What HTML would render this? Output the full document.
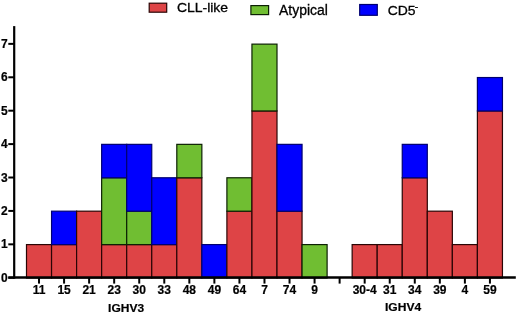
<!DOCTYPE html>
<html><head><meta charset="utf-8"><style>
html,body{margin:0;padding:0;background:#fff;}
body{width:520px;height:313px;overflow:hidden;}
svg{display:block;}
.t{font-family:"Liberation Sans",Arial,sans-serif;font-weight:bold;font-size:12.0px;fill:#000;stroke:#000;stroke-width:0.2px;}
.l{font-family:"Liberation Sans",Arial,sans-serif;font-size:13.3px;fill:#000;stroke:#000;stroke-width:0.3px;}
</style></head><body>
<svg width="520" height="313" viewBox="0 0 520 313">
<rect width="520" height="313" fill="#fff"/>
<rect x="26.50" y="244.59" width="25.05" height="33.41" fill="#DE4446" stroke="#2a0505" stroke-width="1.2"/>
<rect x="51.55" y="244.59" width="25.05" height="33.41" fill="#DE4446" stroke="#2a0505" stroke-width="1.2"/>
<rect x="51.55" y="211.18" width="25.05" height="33.41" fill="#0000FF" stroke="#000070" stroke-width="1.2"/>
<rect x="76.60" y="211.18" width="25.05" height="66.82" fill="#DE4446" stroke="#2a0505" stroke-width="1.2"/>
<rect x="101.65" y="244.59" width="25.05" height="33.41" fill="#DE4446" stroke="#2a0505" stroke-width="1.2"/>
<rect x="101.65" y="177.77" width="25.05" height="66.82" fill="#70BE32" stroke="#0c2004" stroke-width="1.2"/>
<rect x="101.65" y="144.36" width="25.05" height="33.41" fill="#0000FF" stroke="#000070" stroke-width="1.2"/>
<rect x="126.70" y="244.59" width="25.05" height="33.41" fill="#DE4446" stroke="#2a0505" stroke-width="1.2"/>
<rect x="126.70" y="211.18" width="25.05" height="33.41" fill="#70BE32" stroke="#0c2004" stroke-width="1.2"/>
<rect x="126.70" y="144.36" width="25.05" height="66.82" fill="#0000FF" stroke="#000070" stroke-width="1.2"/>
<rect x="151.75" y="244.59" width="25.05" height="33.41" fill="#DE4446" stroke="#2a0505" stroke-width="1.2"/>
<rect x="151.75" y="177.77" width="25.05" height="66.82" fill="#0000FF" stroke="#000070" stroke-width="1.2"/>
<rect x="176.80" y="177.77" width="25.05" height="100.23" fill="#DE4446" stroke="#2a0505" stroke-width="1.2"/>
<rect x="176.80" y="144.36" width="25.05" height="33.41" fill="#70BE32" stroke="#0c2004" stroke-width="1.2"/>
<rect x="201.85" y="244.59" width="25.05" height="33.41" fill="#0000FF" stroke="#000070" stroke-width="1.2"/>
<rect x="226.90" y="211.18" width="25.05" height="66.82" fill="#DE4446" stroke="#2a0505" stroke-width="1.2"/>
<rect x="226.90" y="177.77" width="25.05" height="33.41" fill="#70BE32" stroke="#0c2004" stroke-width="1.2"/>
<rect x="251.95" y="110.95" width="25.05" height="167.05" fill="#DE4446" stroke="#2a0505" stroke-width="1.2"/>
<rect x="251.95" y="44.13" width="25.05" height="66.82" fill="#70BE32" stroke="#0c2004" stroke-width="1.2"/>
<rect x="277.00" y="211.18" width="25.05" height="66.82" fill="#DE4446" stroke="#2a0505" stroke-width="1.2"/>
<rect x="277.00" y="144.36" width="25.05" height="66.82" fill="#0000FF" stroke="#000070" stroke-width="1.2"/>
<rect x="302.05" y="244.59" width="25.05" height="33.41" fill="#70BE32" stroke="#0c2004" stroke-width="1.2"/>
<rect x="352.15" y="244.59" width="25.05" height="33.41" fill="#DE4446" stroke="#2a0505" stroke-width="1.2"/>
<rect x="377.20" y="244.59" width="25.05" height="33.41" fill="#DE4446" stroke="#2a0505" stroke-width="1.2"/>
<rect x="402.25" y="177.77" width="25.05" height="100.23" fill="#DE4446" stroke="#2a0505" stroke-width="1.2"/>
<rect x="402.25" y="144.36" width="25.05" height="33.41" fill="#0000FF" stroke="#000070" stroke-width="1.2"/>
<rect x="427.30" y="211.18" width="25.05" height="66.82" fill="#DE4446" stroke="#2a0505" stroke-width="1.2"/>
<rect x="452.35" y="244.59" width="25.05" height="33.41" fill="#DE4446" stroke="#2a0505" stroke-width="1.2"/>
<rect x="477.40" y="110.95" width="25.05" height="167.05" fill="#DE4446" stroke="#2a0505" stroke-width="1.2"/>
<rect x="477.40" y="77.54" width="25.05" height="33.41" fill="#0000FF" stroke="#000070" stroke-width="1.2"/>
<line x1="14.2" y1="26.1" x2="14.2" y2="278.74" stroke="#000" stroke-width="2.2"/>
<line x1="8.3" y1="277.45" x2="515.8" y2="277.45" stroke="#000" stroke-width="2.4"/>
<line x1="8.3" y1="277.74" x2="14" y2="277.74" stroke="#000" stroke-width="2"/>
<text transform="translate(7.70 281.74) scale(1.0 1)" class="t" text-anchor="end">0</text>
<line x1="8.3" y1="244.33" x2="14" y2="244.33" stroke="#000" stroke-width="2"/>
<text transform="translate(7.70 248.33) scale(1.0 1)" class="t" text-anchor="end">1</text>
<line x1="8.3" y1="210.92" x2="14" y2="210.92" stroke="#000" stroke-width="2"/>
<text transform="translate(7.70 214.92) scale(1.0 1)" class="t" text-anchor="end">2</text>
<line x1="8.3" y1="177.51" x2="14" y2="177.51" stroke="#000" stroke-width="2"/>
<text transform="translate(7.70 181.51) scale(1.0 1)" class="t" text-anchor="end">3</text>
<line x1="8.3" y1="144.10" x2="14" y2="144.10" stroke="#000" stroke-width="2"/>
<text transform="translate(7.70 148.10) scale(1.0 1)" class="t" text-anchor="end">4</text>
<line x1="8.3" y1="110.69" x2="14" y2="110.69" stroke="#000" stroke-width="2"/>
<text transform="translate(7.70 114.69) scale(1.0 1)" class="t" text-anchor="end">5</text>
<line x1="8.3" y1="77.28" x2="14" y2="77.28" stroke="#000" stroke-width="2"/>
<text transform="translate(7.70 81.28) scale(1.0 1)" class="t" text-anchor="end">6</text>
<line x1="8.3" y1="43.87" x2="14" y2="43.87" stroke="#000" stroke-width="2"/>
<text transform="translate(7.70 47.87) scale(1.0 1)" class="t" text-anchor="end">7</text>
<line x1="39.02" y1="277.74" x2="39.02" y2="283.6" stroke="#000" stroke-width="2"/>
<text transform="translate(39.02 294.40) scale(1.0 1)" class="t" text-anchor="middle">11</text>
<line x1="64.08" y1="277.74" x2="64.08" y2="283.6" stroke="#000" stroke-width="2"/>
<text transform="translate(64.08 294.40) scale(1.0 1)" class="t" text-anchor="middle">15</text>
<line x1="89.12" y1="277.74" x2="89.12" y2="283.6" stroke="#000" stroke-width="2"/>
<text transform="translate(89.12 294.40) scale(1.0 1)" class="t" text-anchor="middle">21</text>
<line x1="114.17" y1="277.74" x2="114.17" y2="283.6" stroke="#000" stroke-width="2"/>
<text transform="translate(114.17 294.40) scale(1.0 1)" class="t" text-anchor="middle">23</text>
<line x1="139.23" y1="277.74" x2="139.23" y2="283.6" stroke="#000" stroke-width="2"/>
<text transform="translate(139.23 294.40) scale(1.0 1)" class="t" text-anchor="middle">30</text>
<line x1="164.28" y1="277.74" x2="164.28" y2="283.6" stroke="#000" stroke-width="2"/>
<text transform="translate(164.28 294.40) scale(1.0 1)" class="t" text-anchor="middle">33</text>
<line x1="189.33" y1="277.74" x2="189.33" y2="283.6" stroke="#000" stroke-width="2"/>
<text transform="translate(189.33 294.40) scale(1.0 1)" class="t" text-anchor="middle">48</text>
<line x1="214.38" y1="277.74" x2="214.38" y2="283.6" stroke="#000" stroke-width="2"/>
<text transform="translate(214.38 294.40) scale(1.0 1)" class="t" text-anchor="middle">49</text>
<line x1="239.43" y1="277.74" x2="239.43" y2="283.6" stroke="#000" stroke-width="2"/>
<text transform="translate(239.43 294.40) scale(1.0 1)" class="t" text-anchor="middle">64</text>
<line x1="264.48" y1="277.74" x2="264.48" y2="283.6" stroke="#000" stroke-width="2"/>
<text transform="translate(264.48 294.40) scale(1.0 1)" class="t" text-anchor="middle">7</text>
<line x1="289.53" y1="277.74" x2="289.53" y2="283.6" stroke="#000" stroke-width="2"/>
<text transform="translate(289.53 294.40) scale(1.0 1)" class="t" text-anchor="middle">74</text>
<line x1="314.57" y1="277.74" x2="314.57" y2="283.6" stroke="#000" stroke-width="2"/>
<text transform="translate(314.57 294.40) scale(1.0 1)" class="t" text-anchor="middle">9</text>
<line x1="339.62" y1="277.74" x2="339.62" y2="283.6" stroke="#000" stroke-width="2"/>
<line x1="364.68" y1="277.74" x2="364.68" y2="283.6" stroke="#000" stroke-width="2"/>
<text transform="translate(364.68 294.40) scale(1.0 1)" class="t" text-anchor="middle">30-4</text>
<line x1="389.73" y1="277.74" x2="389.73" y2="283.6" stroke="#000" stroke-width="2"/>
<text transform="translate(389.73 294.40) scale(1.0 1)" class="t" text-anchor="middle">31</text>
<line x1="414.78" y1="277.74" x2="414.78" y2="283.6" stroke="#000" stroke-width="2"/>
<text transform="translate(414.78 294.40) scale(1.0 1)" class="t" text-anchor="middle">34</text>
<line x1="439.82" y1="277.74" x2="439.82" y2="283.6" stroke="#000" stroke-width="2"/>
<text transform="translate(439.82 294.40) scale(1.0 1)" class="t" text-anchor="middle">39</text>
<line x1="464.88" y1="277.74" x2="464.88" y2="283.6" stroke="#000" stroke-width="2"/>
<text transform="translate(464.88 294.40) scale(1.0 1)" class="t" text-anchor="middle">4</text>
<line x1="489.93" y1="277.74" x2="489.93" y2="283.6" stroke="#000" stroke-width="2"/>
<text transform="translate(489.93 294.40) scale(1.0 1)" class="t" text-anchor="middle">59</text>
<text transform="translate(108.10 311.60) scale(1.03 1)" class="t" style="font-size:11.65px">IGHV3</text>
<text transform="translate(385.00 311.30) scale(1.035 1)" class="t" style="font-size:11.65px">IGHV4</text>
<rect x="149.2" y="3.2" width="17.5" height="9" fill="#DE4446" stroke="#2a0505" stroke-width="1.2"/>
<rect x="250.9" y="5.6" width="17.7" height="9" fill="#70BE32" stroke="#0c2004" stroke-width="1.2"/>
<rect x="359.7" y="4.5" width="17.6" height="10.8" fill="#0000FF" stroke="#000070" stroke-width="1.2"/>
<text transform="translate(176.90 12.10) scale(1.05 1)" class="l">CLL-like</text>
<text transform="translate(279.00 14.60) scale(1.005 1)" class="l" style="font-size:13.9px">Atypical</text>
<text transform="translate(387.7 15.3) scale(1.02 1)" class="l" style="font-size:13.7px">CD5<tspan x="26.6" y="-5.3" style="font-size:10px">-</tspan></text>
</svg>
</body></html>
